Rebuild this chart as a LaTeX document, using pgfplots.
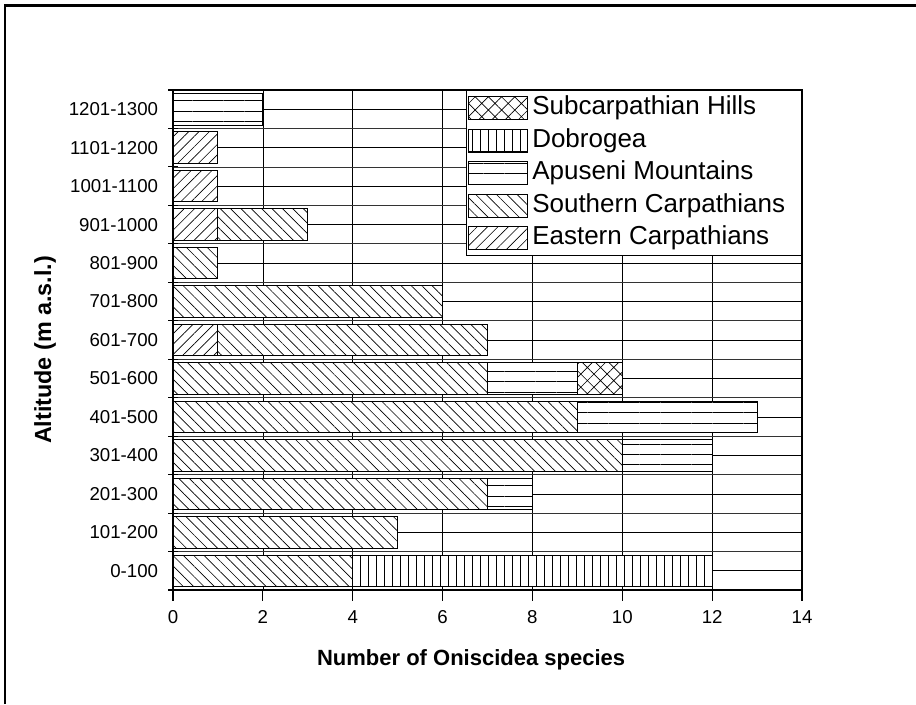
\documentclass[border=0pt]{standalone}
\usepackage{fontspec}
\setmainfont{Liberation Sans}
\usepackage{pgfplots}
\usepackage{pgfplotstable}
\pgfplotsset{compat=1.18}
\usetikzlibrary{patterns.meta}

\pgfplotstableread{
cat ea so ap do su
0 0 4 0 8 0
1 0 5 0 0 0
2 0 7 1 0 0
3 0 10 2 0 0
4 0 9 4 0 0
5 0 7 2 0 1
6 1 6 0 0 0
7 0 6 0 0 0
8 0 1 0 0 0
9 1 2 0 0 0
10 1 0 0 0 0
11 1 0 0 0 0
12 0 0 2 0 0
}\datatable

\begin{document}
\begin{tikzpicture}
\useasboundingbox (0,0) rectangle (687pt,528pt);
\draw[line width=2pt] (3.75pt,0) -- (3.75pt,523.9pt) -- (687pt,523.9pt);
\begin{axis}[
  at={(129.75pt,85.5pt)}, anchor=south west,
  scale only axis, width=471.75pt, height=375pt,
  xbar stacked, bar width=0.82,
  xmin=0, xmax=14, ymin=-0.5, ymax=12.5,
  xtick={0,2,...,14}, ytick={0,...,12},
  yticklabels={0-100,101-200,201-300,301-400,401-500,501-600,601-700,701-800,801-900,901-1000,1001-1100,1101-1200,1201-1300},
  minor ytick={-0.5,0.5,...,12.5},
  xmajorgrids, ymajorgrids, yminorgrids,
  major grid style={black, line width=0.5pt},
  minor grid style={black!80, line width=0.6pt},
  axis line style={line width=1.1pt},
  tick style={black, line width=0.8pt},
  tick align=outside,
  major tick length=8pt, minor tick length=7.5pt,
  major y tick style={draw=none},
  minor y tick style={xshift=3.75pt},
  xtick pos=bottom, ytick pos=left,
  /pgf/number format/assume math mode=true,
  ticklabel style={font=\fontsize{14}{16}\selectfont},
  yticklabel style={inner sep=3pt},
  xticklabel style={inner sep=3pt, yshift=-4pt},
  xlabel={Number of Oniscidea species},
  ylabel={Altitude (m a.s.l.)},
  label style={font=\fontsize{16.5}{20}\selectfont\bfseries},
  xlabel style={at={(axis description cs:0.474,-0.14)}, anchor=center},
  ylabel style={at={(axis description cs:-0.2035,0.48)}, anchor=center, font=\fontsize{17.5}{20}\selectfont\bfseries},
  reverse legend,
  legend image code/.code={\draw[#1, line width=0.8pt] (0pt,-8.5pt) rectangle (44pt,8.5pt);},
  legend style={at={(1,1)}, anchor=north east, draw=black, line width=0.8pt,
    font=\fontsize{19.5}{22}\selectfont, row sep=0pt, inner sep=1pt,
    nodes={inner sep=3.2pt, text height=14pt, text depth=4pt},
    cells={anchor=west}},
]
\addplot[fill=white, draw=black, line width=0.7pt, postaction={pattern={Lines[angle=45, distance=5.5pt, line width=0.5pt]}, pattern color=black}] table[x=ea, y=cat] {\datatable};
\addlegendentry{Eastern Carpathians}
\addplot[fill=white, draw=black, line width=0.7pt, postaction={pattern={Lines[angle=-45, distance=5.5pt, line width=0.5pt]}, pattern color=black}] table[x=so, y=cat] {\datatable};
\addlegendentry{Southern Carpathians\hspace*{8pt}}
\addplot[fill=white, draw=black, line width=0.7pt, postaction={pattern={Lines[angle=0, distance=7.8pt, line width=0.5pt]}, pattern color=black}] table[x=ap, y=cat] {\datatable};
\addlegendentry{Apuseni Mountains}
\addplot[fill=white, draw=black, line width=0.7pt, postaction={pattern={Lines[angle=90, distance=6pt, line width=0.5pt]}, pattern color=black}] table[x=do, y=cat] {\datatable};
\addlegendentry{Dobrogea}
\addplot[fill=white, draw=black, line width=0.7pt, postaction={pattern={Hatch[angle=45, distance=7pt, line width=0.5pt]}, pattern color=black}] table[x=su, y=cat] {\datatable};
\addlegendentry{Subcarpathian Hills}
\end{axis}
\end{tikzpicture}
\end{document}
